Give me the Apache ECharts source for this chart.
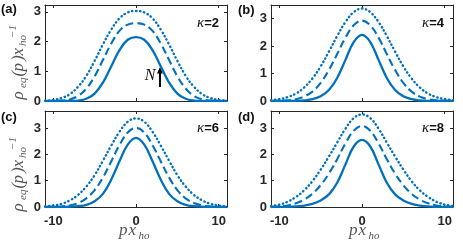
<!DOCTYPE html>
<html><head><meta charset="utf-8">
<script src="https://cdn.jsdelivr.net/npm/echarts@6/dist/echarts.min.js"></script>
<style>html,body{margin:0;padding:0;background:#fff}#c{width:463px;height:245px}</style>
</head><body><div id="c"></div>
<script>
// ---- data ----
const xs = [-11,-10,-9,-8,-7,-6,-5,-4,-3,-2,-1,0,1,2,3,4,5,6,7,8,9,10,11];
const xTicks = [-10,0,10];
const yTicks = [0,1,2,3];
const panelLabels = ['(a)','(b)','(c)','(d)'];
const kappaValues = ['2','4','6','8'];
const yMaxes = [3.23,3.5,3.65,3.65];

const solidA = [0,0,0,0.003,0.016,0.075,0.25,0.62,1.16,1.71,2.06,2.15,2.06,1.71,1.16,0.62,0.25,0.075,0.016,0.003,0,0,0];
const dashA  = [0,0.002,0.013,0.054,0.17,0.42,0.83,1.38,1.93,2.36,2.57,2.62,2.57,2.36,1.93,1.38,0.83,0.42,0.17,0.054,0.013,0.002,0];
const dotA   = [0.01,0.036,0.10,0.23,0.48,0.85,1.35,1.90,2.40,2.78,2.98,3.03,2.98,2.78,2.40,1.90,1.35,0.85,0.48,0.23,0.10,0.036,0.01];

const solidB = [0,0,0,0.005,0.02,0.065,0.17,0.4,0.84,1.5,2.15,2.41,2.15,1.5,0.84,0.4,0.17,0.065,0.02,0.005,0,0,0];
const dashB  = [0.002,0.008,0.024,0.065,0.16,0.34,0.66,1.13,1.71,2.31,2.76,2.93,2.76,2.31,1.71,1.13,0.66,0.34,0.16,0.065,0.024,0.008,0.002];
const dotB   = [0.03,0.067,0.14,0.27,0.49,0.82,1.26,1.80,2.37,2.88,3.24,3.37,3.24,2.88,2.37,1.80,1.26,0.82,0.49,0.27,0.14,0.067,0.03];

const solidC = [0,0,0.003,0.01,0.03,0.08,0.22,0.50,1.04,1.74,2.37,2.63,2.37,1.74,1.04,0.50,0.22,0.08,0.03,0.01,0.003,0,0];
const dashC  = [0.001,0.005,0.02,0.06,0.15,0.33,0.64,1.12,1.73,2.35,2.83,3.01,2.83,2.35,1.73,1.12,0.64,0.33,0.15,0.06,0.02,0.005,0.001];
const dotC   = [0.024,0.057,0.12,0.25,0.46,0.78,1.21,1.76,2.33,2.86,3.24,3.37,3.24,2.86,2.33,1.76,1.21,0.78,0.46,0.25,0.12,0.057,0.024];

const solidD = [0,0.002,0.008,0.02,0.055,0.12,0.25,0.48,0.92,1.62,2.30,2.55,2.30,1.62,0.92,0.48,0.25,0.12,0.055,0.02,0.008,0.002,0];
const dashD  = [0.005,0.02,0.06,0.14,0.28,0.50,0.83,1.27,1.82,2.42,2.90,3.08,2.90,2.42,1.82,1.27,0.83,0.50,0.28,0.14,0.06,0.02,0.005];
const dotD   = [0.04,0.09,0.20,0.38,0.63,0.98,1.42,1.92,2.45,2.98,3.38,3.52,3.38,2.98,2.45,1.92,1.42,0.98,0.63,0.38,0.20,0.09,0.04];

const panels = [[solidA,dashA,dotA],[solidB,dashB,dotB],[solidC,dashC,dotC],[solidD,dashD,dotD]];

// ---- layout / style ----
const AX = '#262626';
const BLUE = '#0072BD';
const gridPos = [
  {left:45, top:5, width:182, height:96},
  {left:271, top:5, width:182, height:96},
  {left:45, top:111, width:182, height:96},
  {left:271, top:111, width:182, height:96}
];
const tickFont = {fontFamily:'"Liberation Sans", Arial, sans-serif', fontWeight:'bold', fontSize:13, color:AX};

const xAxis = [], yAxis = [], series = [];
for (let i = 0; i < 4; i++) {
  const base = {gridIndex:i, type:'value', splitLine:{show:false},
    axisLine:{show:true, onZero:false, lineStyle:{color:AX, width:1}}};
  xAxis.push(Object.assign({}, base, {min:-11, max:11, position:'bottom',
    axisTick:{show:true, inside:true, length:3, customValues:xTicks, lineStyle:{color:AX}},
    axisLabel:Object.assign({show:i>=2, customValues:xTicks, margin:8, formatter:v=>String(v)}, tickFont)}));
  yAxis.push(Object.assign({}, base, {min:0, max:yMaxes[i], position:'left',
    axisTick:{show:true, inside:true, length:3, customValues:yTicks, lineStyle:{color:AX}},
    axisLabel:Object.assign({show:true, customValues:yTicks, margin:4}, tickFont)}));
}
for (let i = 0; i < 4; i++) {
  const base = {gridIndex:i, type:'value', splitLine:{show:false},
    axisLine:{show:true, onZero:false, lineStyle:{color:AX, width:1}}, axisLabel:{show:false}};
  xAxis.push(Object.assign({}, base, {min:-11, max:11, position:'top',
    axisTick:{show:true, inside:true, length:3, customValues:xTicks, lineStyle:{color:AX}}}));
  yAxis.push(Object.assign({}, base, {min:0, max:yMaxes[i], position:'right',
    axisTick:{show:true, inside:true, length:3, customValues:yTicks, lineStyle:{color:AX}}}));
}
const styles = [
  {type:'solid', width:2.3, cap:'butt'},
  {type:[8,4], width:2.1, cap:'butt'},
  {type:[0.4,3.6], width:2.4, cap:'round'}
];
panels.forEach((arrs, i) => {
  arrs.forEach((arr, s) => {
    series.push({type:'line', xAxisIndex:i, yAxisIndex:i, symbol:'none', smooth:0.4,
      data: xs.map((x,k)=>[x, arr[k]]),
      lineStyle:{color:BLUE, width:styles[s].width, type:styles[s].type, cap:styles[s].cap},
      animation:false, silent:true});
  });
});

// ---- annotations ----
const graphic = [];
const panelLabelPos = [[1,9.5],[238,10],[1,117],[238,117]];
panelLabels.forEach((t,i)=>{
  graphic.push({type:'text', x:panelLabelPos[i][0], y:panelLabelPos[i][1],
    style:{text:t, fontFamily:'"Liberation Sans", Arial', fontWeight:'bold', fontSize:13, fill:'#111', align:'left', verticalAlign:'middle'}});
});
const kappaPos = [[219,23],[444,23],[219,128],[444,128]];
kappaValues.forEach((v,i)=>{
  graphic.push({type:'text', x:kappaPos[i][0], y:kappaPos[i][1],
    style:{text:'{k|κ}{b|='+v+'}', align:'right', verticalAlign:'middle',
      rich:{k:{fontFamily:'"Liberation Serif", serif', fontStyle:'italic', fontSize:15, fill:'#111'},
            b:{fontFamily:'"Liberation Sans", Arial', fontWeight:'bold', fontSize:13, fill:'#111'}}}});
});
// y-axis titles (rotated)
const LBL = '#555';
function yTitle(x0, y0) {
  const serif = '"Liberation Serif", "DejaVu Serif", serif';
  const mk = (t, x, y, size) => ({type:'text', x:x, y:y,
    style:{text:t, fontFamily:serif, fontStyle:'italic', fontSize:size, fill:LBL, align:'left', verticalAlign:'middle'}});
  return {type:'group', x:x0, y:y0, rotation:Math.PI/2, children:[
    mk('ρ', 0.5, 0, 17), mk('eq', 12, 4.5, 11), mk('(', 23.5, 0, 17), mk('p', 28.5, 0, 17),
    mk(')', 39, 0, 17), mk('x', 44.5, 0, 17), mk('ho', 54, 4.5, 11), mk('−1', 62, -6, 11)
  ]};
}
graphic.push(yTitle(19, 100));
graphic.push(yTitle(19, 212));
// x-axis titles
function xTitle(x0) {
  const serif = '"Liberation Serif", "DejaVu Serif", serif';
  const mk = (t, x, y, size) => ({type:'text', x:x, y:y,
    style:{text:t, fontFamily:serif, fontStyle:'italic', fontSize:size, fill:LBL, align:'left', verticalAlign:'middle'}});
  return {type:'group', x:x0, y:0, children:[mk('p',0,231,17), mk('x',9.5,231,17), mk('ho',19.5,236,11)]};
}
graphic.push(xTitle(119));
graphic.push(xTitle(349));
// N arrow
graphic.push({type:'text', x:150, y:76, style:{text:'N', fontFamily:'"Liberation Serif", serif', fontStyle:'italic', fontSize:16, fill:'#111', align:'center', verticalAlign:'middle'}});
graphic.push({type:'line', shape:{x1:160, y1:87, x2:160, y2:72}, style:{stroke:'#000', lineWidth:2}});
graphic.push({type:'polygon', shape:{points:[[157,73.5],[163,73.5],[160,67]]}, style:{fill:'#000'}});

const chart = echarts.init(document.getElementById('c'), null, {renderer:'canvas'});
chart.setOption({
  animation:false,
  grid: gridPos,
  xAxis: xAxis,
  yAxis: yAxis,
  series: series,
  graphic: graphic
});
</script></body></html>
